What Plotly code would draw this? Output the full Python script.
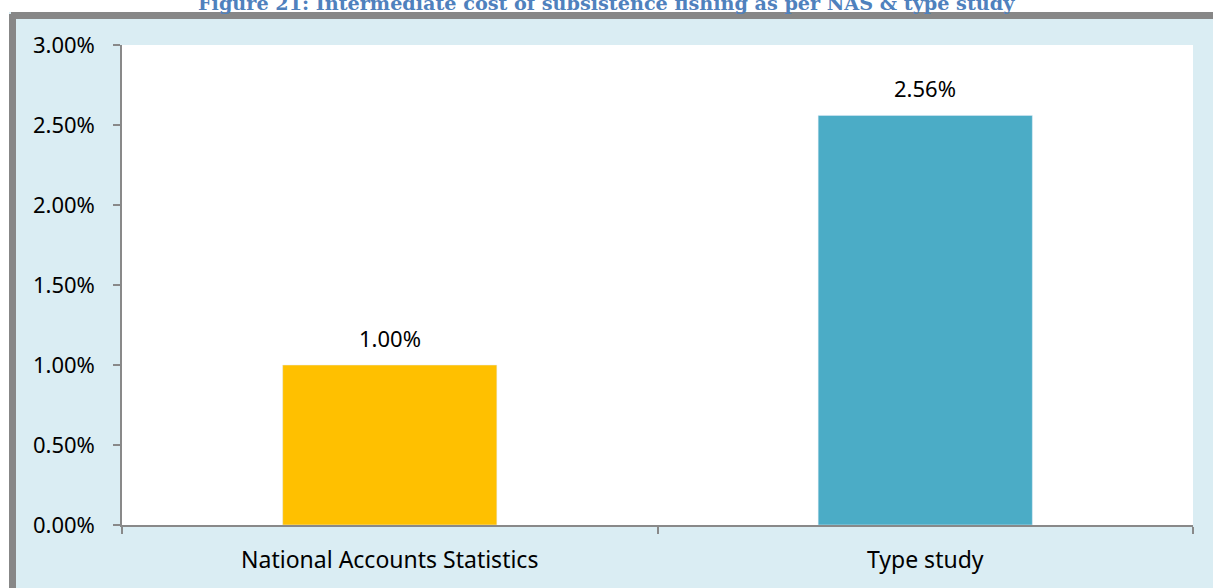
import plotly.graph_objects as go

categories = ["National Accounts Statistics", "Type study"]
values = [0.01, 0.0256]
bar_colors = ["#FFC000", "#4BACC6"]
y_ticks = [0, 0.005, 0.01, 0.015, 0.02, 0.025, 0.03]
title_text = "Figure 21: Intermediate cost of subsistence fishing as per NAS & type study"

W, H = 1213, 588
L, R, T, B = 122, 20, 45, 63
pw, ph = W - L - R, H - T - B

def px(x):
    return (x - L) / pw

def py(y):
    return (H - B - y) / ph

FONT = "Noto Sans"

fig = go.Figure()
fig.add_trace(go.Bar(
    x=categories, y=values, marker_color=bar_colors, width=0.4,
    hoverinfo="skip",
))

for c, v in zip(categories, values):
    fig.add_annotation(x=c, y=v, text=f"{v*100:.2f}%", showarrow=False,
                       yanchor="bottom", yshift=10,
                       font=dict(family=FONT, size=22, color="#000000"))

fig.add_annotation(xref="paper", yref="paper", x=px(606), y=py(17),
                   text=f"<b>{title_text}</b>", showarrow=False,
                   xanchor="center", yanchor="bottom",
                   font=dict(family="DejaVu Serif", size=19.2, color="#4F81BD"))

shapes = [
    # white strip above border
    dict(type="rect", xref="paper", yref="paper", x0=px(-5), x1=px(W + 5), y0=py(12), y1=py(-5),
         fillcolor="#FFFFFF", line_width=0, layer="below"),
    # white strip left of border
    dict(type="rect", xref="paper", yref="paper", x0=px(-5), x1=px(9), y0=py(H + 5), y1=py(-5),
         fillcolor="#FFFFFF", line_width=0, layer="below"),
    # grey border left
    dict(type="rect", xref="paper", yref="paper", x0=px(9), x1=px(16), y0=py(14), y1=py(H + 5),
         fillcolor="#878787", line_width=0, layer="below"),
    # grey border top
    dict(type="rect", xref="paper", yref="paper", x0=px(11), x1=px(W + 5), y0=py(12), y1=py(19),
         fillcolor="#878787", line_width=0, layer="below"),
]
fig.update_layout(shapes=shapes)

fig.update_layout(
    width=W, height=H,
    margin=dict(l=L, r=R, t=T, b=B, pad=0),
    paper_bgcolor="#DAEDF3",
    plot_bgcolor="#FFFFFF",
    showlegend=False,
    bargap=0.6,
    font=dict(family=FONT, size=22, color="#000000"),
)
fig.update_xaxes(
    showline=True, linecolor="#898989", linewidth=1.5,
    ticks="outside", tickson="boundaries", ticklen=7, tickcolor="#898989", tickwidth=1.5,
    showgrid=False, tickfont=dict(family=FONT, size=23, color="#000000"),
    ticklabelstandoff=14,
)
fig.update_yaxes(
    range=[0, 0.03], tickvals=y_ticks, tickformat=".2%",
    showline=True, linecolor="#898989", linewidth=1.5,
    ticks="outside", ticklen=7, tickcolor="#898989", tickwidth=1.5,
    showgrid=False, zeroline=False, ticklabelstandoff=14,
    tickfont=dict(family=FONT, size=22, color="#000000"),
)

fig.write_html("out.html", config={"displayModeBar": False},
               post_script="document.body.style.margin='0';")
